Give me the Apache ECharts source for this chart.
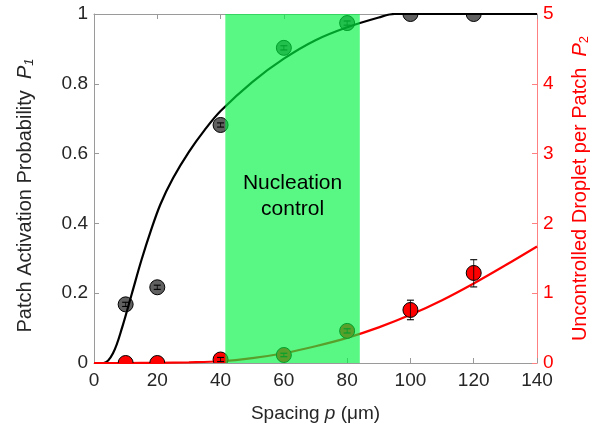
<!DOCTYPE html>
<html>
<head>
<meta charset="utf-8">
<script src="https://cdn.jsdelivr.net/npm/echarts@6/dist/echarts.min.js"></script>
<style>
  html, body { margin: 0; padding: 0; background: #fff; }
  #main { width: 590px; height: 432px; }
</style>
</head>
<body>
<div id="main"></div>
<script>
// measured spacing values
var spacing = [10, 20, 40, 60, 80, 100, 120];

// P1 (left axis) with small error bars
var p1Vals = [0.168, 0.217, 0.682, 0.903, 0.974, 1.0, 1.0];
var p1Lo = [0.162, 0.211, 0.676, 0.897, 0.968, 1.0, 1.0];
var p1Hi = [0.174, 0.223, 0.688, 0.909, 0.980, 1.0, 1.0];

// P2 (right axis)
var p2Vals = [0, 0, 0.05, 0.115, 0.46, 0.76, 1.29];
var p2Lo = [0, 0, 0.02, 0.09, 0.43, 0.62, 1.09];
var p2Hi = [0, 0, 0.08, 0.14, 0.49, 0.90, 1.48];

// fitted curves
var fitX1 = [0, 3, 6, 9, 12, 15, 18, 21, 25, 30, 35, 40, 50, 60, 70, 80, 90, 95, 100, 120, 140];
var fitP1 = [0, 0, 0.028, 0.105, 0.2, 0.295, 0.38, 0.455, 0.53, 0.605, 0.668, 0.722, 0.805, 0.872, 0.925, 0.962, 0.99, 1, 1, 1, 1];
var fitX2 = [0, 10, 20, 30, 40, 50, 60, 70, 80, 90, 100, 110, 120, 130, 140];
var fitP2 = [0, 0, 0.003, 0.01, 0.025, 0.07, 0.14, 0.24, 0.36, 0.51, 0.69, 0.9, 1.14, 1.4, 1.67];

// nucleation control band
var band = [41.5, 84];

var chart = echarts.init(document.getElementById('main'));

function zip(a, b, c, d) {
  var out = [];
  for (var i = 0; i < a.length; i++) {
    out.push(c ? [a[i], b[i], c[i], d[i]] : [a[i], b[i]]);
  }
  return out;
}

// circle + error bar drawn through the axis scales
function pointRenderer(fill) {
  return function (params, api) {
    var x = api.value(0);
    var c = api.coord([x, api.value(1)]);
    var lo = api.coord([x, api.value(2)]);
    var hi = api.coord([x, api.value(3)]);
    var kids = [{
      type: 'circle',
      shape: { cx: c[0], cy: c[1], r: 7.5 },
      style: { fill: fill, stroke: '#000', lineWidth: 1 }
    }];
    if (lo[1] - hi[1] > 0.5) {
      var st = { stroke: '#000', lineWidth: 1.1 };
      kids.push({ type: 'line', shape: { x1: c[0], y1: hi[1], x2: c[0], y2: lo[1] }, style: { stroke: '#000', lineWidth: 0.8 } });
      kids.push({ type: 'line', shape: { x1: c[0] - 3.5, y1: hi[1], x2: c[0] + 3.5, y2: hi[1] }, style: st });
      kids.push({ type: 'line', shape: { x1: c[0] - 3.5, y1: lo[1], x2: c[0] + 3.5, y2: lo[1] }, style: st });
    }
    return { type: 'group', children: kids };
  };
}

var font = 'Liberation Sans';
var dark = '#262626';

chart.setOption({
  animation: false,
  grid: { left: 94, right: 53, top: 14, bottom: 69, outerBoundsMode: 'none' },
  xAxis: [{
    type: 'value', min: 0, max: 140, interval: 20,
    name: '{a|Spacing }{i|p}{a| (μm)}',
    nameLocation: 'middle', nameGap: 41,
    nameTextStyle: {
      rich: {
        a: { fontFamily: font, fontSize: 19, color: dark },
        i: { fontFamily: font, fontSize: 19, color: dark, fontStyle: 'italic' }
      }
    },
    axisLine: { onZero: false, lineStyle: { color: '#9a9a9a' } },
    axisTick: { inside: true, length: 5, lineStyle: { color: '#9a9a9a' } },
    axisLabel: { fontFamily: font, fontSize: 19, color: dark, margin: 8 },
    splitLine: { show: false }
  }, {
    type: 'value', min: 0, max: 140, interval: 20, position: 'top',
    axisLine: { onZero: false, lineStyle: { color: '#9a9a9a' } },
    axisTick: { inside: true, length: 5, lineStyle: { color: '#9a9a9a' } },
    axisLabel: { show: false },
    splitLine: { show: false }
  }],
  yAxis: [{
    type: 'value', min: 0, max: 1, interval: 0.2, position: 'left',
    name: '{a|Patch Activation Probability  }{i|P}{s|1}',
    nameLocation: 'middle', nameGap: 58,
    nameTextStyle: {
      padding: [0, 14, 0, 0],
      rich: {
        a: { fontFamily: font, fontSize: 20, color: dark },
        i: { fontFamily: font, fontSize: 20, color: dark, fontStyle: 'italic' },
        s: { fontFamily: font, fontSize: 13, color: dark, fontStyle: 'italic', verticalAlign: 'bottom', padding: [9, 0, 0, 0] }
      }
    },
    axisLine: { show: true, onZero: false, lineStyle: { color: '#9a9a9a' } },
    axisTick: { show: true, inside: true, length: 5, lineStyle: { color: '#9a9a9a' } },
    axisLabel: { fontFamily: font, fontSize: 19, color: dark, margin: 6 },
    splitLine: { show: false }
  }, {
    type: 'value', min: 0, max: 5, interval: 1, position: 'right',
    name: '{a|Uncontrolled Droplet per Patch  }{i|P}{s|2}',
    nameLocation: 'middle', nameGap: 32,
    nameTextStyle: {
      rich: {
        a: { fontFamily: font, fontSize: 20, color: '#ff0000' },
        i: { fontFamily: font, fontSize: 20, color: '#ff0000', fontStyle: 'italic' },
        s: { fontFamily: font, fontSize: 13, color: '#ff0000', verticalAlign: 'bottom', padding: [9, 0, 0, 0] }
      }
    },
    axisLine: { show: true, onZero: false, lineStyle: { color: '#ff8080' } },
    axisTick: { show: true, inside: true, length: 5, lineStyle: { color: '#ff8080' } },
    axisLabel: { fontFamily: font, fontSize: 19, color: '#ff0000', margin: 6 },
    splitLine: { show: false }
  }],
  series: [{
    name: 'P1 fit', type: 'line', xAxisIndex: 0, yAxisIndex: 0,
    data: zip(fitX1, fitP1), smooth: 0.35, showSymbol: false,
    lineStyle: { color: '#000', width: 2.2 }, z: 3,
    markArea: {
      z: 10, silent: true,
      itemStyle: { color: 'rgba(0,245,66,0.65)' },
      label: {
        show: true, position: 'inside', offset: [0, 8],
        formatter: 'Nucleation\ncontrol',
        fontFamily: font, fontSize: 21, lineHeight: 26, color: '#000'
      },
      data: [[{ xAxis: band[0] }, { xAxis: band[1] }]]
    }
  }, {
    name: 'P2 fit', type: 'line', xAxisIndex: 0, yAxisIndex: 1,
    data: zip(fitX2, fitP2), smooth: 0.35, showSymbol: false,
    lineStyle: { color: '#ff0000', width: 2.2 }, z: 3
  }, {
    name: 'P1', type: 'custom', xAxisIndex: 0, yAxisIndex: 0, clip: true, z: 2,
    renderItem: pointRenderer('#606060'),
    data: zip(spacing, p1Vals, p1Lo, p1Hi)
  }, {
    name: 'P2', type: 'custom', xAxisIndex: 0, yAxisIndex: 1, clip: true, z: 4,
    renderItem: pointRenderer('#ff0000'),
    data: zip(spacing, p2Vals, p2Lo, p2Hi)
  }]
});
</script>
</body>
</html>
